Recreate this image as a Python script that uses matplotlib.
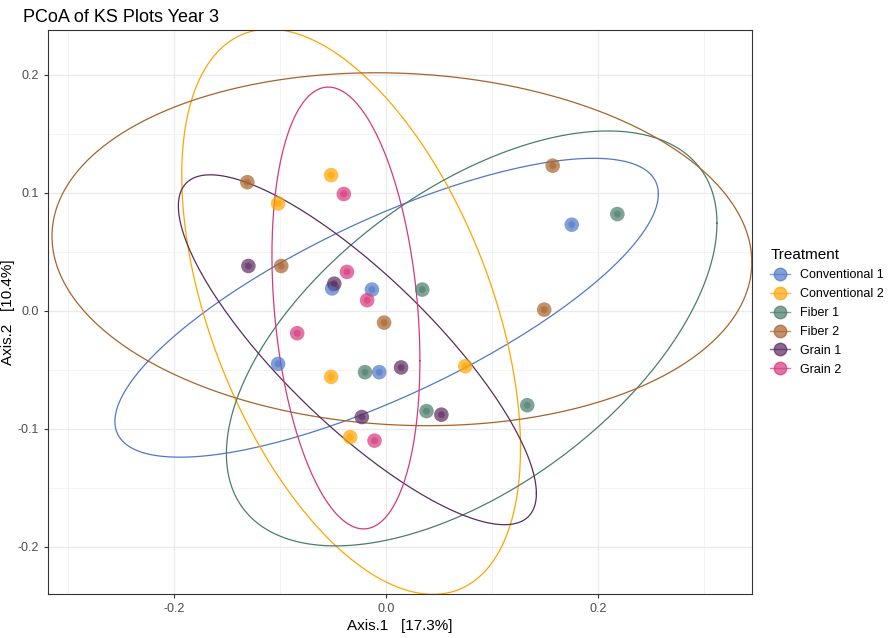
import numpy as np
import matplotlib
matplotlib.use("Agg")
import matplotlib.pyplot as plt
from matplotlib.lines import Line2D

plt.rcParams["font.family"] = ["Liberation Sans", "DejaVu Sans"]

groups = ["Conventional 1", "Conventional 2", "Fiber 1", "Fiber 2", "Grain 1", "Grain 2"]
colors = ["#5078C8", "#FFA500", "#4A7D6C", "#A8632B", "#5C2B5E", "#D6387D"]

axis1 = {
    "Conventional 1": [0.175, -0.051, -0.0135, -0.102, -0.0066],
    "Conventional 2": [-0.052, -0.102, -0.052, 0.0745, -0.034],
    "Fiber 1": [0.034, -0.020, 0.038, 0.218, 0.133],
    "Fiber 2": [-0.131, -0.099, -0.002, 0.157, 0.149],
    "Grain 1": [-0.130, -0.049, 0.014, 0.052, -0.023],
    "Grain 2": [-0.040, -0.037, -0.018, -0.084, -0.011],
}
axis2 = {
    "Conventional 1": [0.073, 0.019, 0.018, -0.045, -0.052],
    "Conventional 2": [0.115, 0.091, -0.056, -0.047, -0.107],
    "Fiber 1": [0.018, -0.052, -0.085, 0.082, -0.080],
    "Fiber 2": [0.109, 0.038, -0.010, 0.123, 0.001],
    "Grain 1": [0.038, 0.023, -0.048, -0.088, -0.090],
    "Grain 2": [0.099, 0.033, 0.009, -0.019, -0.110],
}


def ellipse(x, y, level=0.95, segments=200):
    # like ggplot stat_ellipse(type="norm")
    pts = np.column_stack([x, y])
    center = pts.mean(axis=0)
    cov = np.cov(pts.T)
    radius = np.sqrt(-2 * np.log(1 - level))  # sqrt(qchisq(level, 2))
    t = np.linspace(0, 2 * np.pi, segments)
    circle = np.column_stack([np.cos(t), np.sin(t)])
    chol = np.linalg.cholesky(cov)
    return center + radius * circle @ chol.T


fig, ax = plt.subplots(figsize=(8.96, 6.38), dpi=100)
fig.subplots_adjust(left=48 / 896, right=752 / 896, top=1 - 30 / 638, bottom=1 - 594 / 638)

for g, c in zip(groups, colors):
    x, y = axis1[g], axis2[g]
    e = ellipse(x, y)
    ax.plot(e[:, 0], e[:, 1], color=c, lw=0.9, zorder=2)
    ax.scatter(x, y, s=110, color=c, alpha=0.7, edgecolors="none", zorder=3)
    ax.scatter(x, y, s=25, color=c, alpha=0.6, edgecolors="none", zorder=4)

ax.set_xlim(-0.319, 0.345)
ax.set_ylim(-0.240, 0.238)
ax.set_xticks([-0.2, 0.0, 0.2])
ax.set_xticklabels(["-0.2", "0.0", "0.2"])
ax.set_yticks([-0.2, -0.1, 0.0, 0.1, 0.2])
ax.set_yticklabels(["-0.2", "-0.1", "0.0", "0.1", "0.2"])
ax.set_xticks([-0.3, -0.1, 0.1, 0.3], minor=True)
ax.set_yticks([-0.15, -0.05, 0.05, 0.15], minor=True)
ax.grid(True, which="major", color="#EBEBEB", lw=1.0)
ax.grid(True, which="minor", color="#F3F3F3", lw=0.6)
ax.set_axisbelow(True)
ax.tick_params(which="major", colors="#333333", labelsize=9, length=3, labelcolor="#4D4D4D")
ax.tick_params(which="minor", length=0)
for s in ax.spines.values():
    s.set_color("#333333")
    s.set_linewidth(0.8)

ax.set_xlabel("Axis.1   [17.3%]", fontsize=11, labelpad=3)
ax.set_ylabel("Axis.2   [10.4%]", fontsize=11, labelpad=2)
ax.set_title("PCoA of KS Plots Year 3", fontsize=13, loc="left", pad=6, x=-0.035)

handles = [Line2D([0], [0], color=c, marker="o", markersize=9, alpha=0.7, lw=1) for c in colors]
leg = ax.legend(handles, groups, title="Treatment", loc="center left", bbox_to_anchor=(1.01, 0.5),
                frameon=False, fontsize=9, title_fontsize=11, handlelength=1.6, labelspacing=0.55)
leg._legend_box.align = "left"

fig.savefig("out.png", dpi=100)
